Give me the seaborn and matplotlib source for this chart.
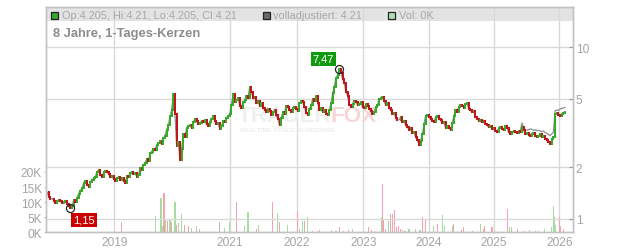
import numpy as np
import pandas as pd
import matplotlib
matplotlib.use("Agg")
import matplotlib.pyplot as plt
import seaborn as sns
from matplotlib.patches import Rectangle
from matplotlib.ticker import NullLocator, FixedLocator, FixedFormatter

# ---------------- data ----------------
# closing prices, two candles per x unit
close = [1.43, 1.33, 1.30, 1.31, 1.27, 1.24, 1.27, 1.29, 1.26, 1.23,
         1.25, 1.27, 1.22, 1.18, 1.15, 1.19, 1.28, 1.25, 1.32, 1.40,
         1.46, 1.50, 1.62, 1.66, 1.58, 1.54, 1.64, 1.68, 1.72, 1.76,
         1.88, 1.92, 1.80, 1.76, 1.86, 1.90, 1.88, 1.82, 1.74, 1.78,
         1.70, 1.66, 1.72, 1.76, 1.68, 1.72, 1.66, 1.62, 1.78, 1.76,
         1.84, 1.88, 1.82, 1.84, 1.76, 1.80, 1.98, 1.92, 2.06, 2.12,
         2.22, 2.16, 2.40, 2.46, 2.55, 2.50, 2.70, 2.76, 2.82, 2.74,
         2.95, 3.05, 3.30, 3.50, 3.95, 4.30, 5.30, 4.10, 2.65, 2.80,
         2.20, 2.55, 3.10, 3.00, 3.38, 3.45, 3.52, 3.40, 3.68, 3.80,
         3.72, 3.55, 3.62, 3.72, 3.66, 3.75, 3.55, 3.48, 3.68, 3.82,
         3.95, 3.70, 3.56, 3.62, 3.32, 3.45, 3.72, 3.65, 3.88, 3.98,
         4.10, 4.60, 5.30, 4.80, 4.95, 5.05, 4.55, 4.45, 4.78, 4.90,
         5.20, 5.05, 5.85, 5.50, 5.05, 5.15, 4.75, 4.85, 4.55, 4.70,
         4.45, 4.30, 4.20, 4.35, 4.25, 4.05, 4.18, 4.28, 4.00, 3.80,
         3.50, 3.85, 4.20, 4.10, 4.56, 4.50, 4.30, 4.20, 4.40, 4.48,
         4.35, 4.25, 4.70, 4.85, 4.78, 4.50, 4.15, 4.05, 4.36, 4.60,
         5.00, 4.85, 5.21, 4.70, 4.30, 4.40, 4.17, 4.28, 4.08, 4.02,
         4.30, 4.70, 5.40, 5.90, 6.60, 6.90, 7.47, 7.10, 6.50, 6.20,
         5.50, 5.20, 4.60, 4.50, 4.67, 4.85, 4.77, 4.60, 4.67, 4.80,
         4.46, 4.40, 4.67, 4.55, 4.36, 4.25, 4.08, 4.20, 4.46, 4.60,
         4.99, 5.05, 5.15, 4.85, 4.60, 4.70, 4.40, 4.30, 4.10, 4.15,
         3.85, 3.75, 3.78, 3.92, 3.65, 3.72, 3.50, 3.42, 3.30, 3.38,
         3.15, 3.20, 2.98, 2.88, 2.70, 2.85, 3.10, 3.55, 3.99, 4.05,
         3.90, 3.80, 3.73, 3.68, 3.90, 3.98, 3.80, 3.75, 3.60, 3.64,
         3.40, 3.48, 3.38, 3.30, 3.60, 3.95, 4.30, 4.20, 4.50, 4.62,
         4.55, 4.45, 4.67, 4.72, 4.36, 4.28, 4.17, 4.25, 3.90, 3.82,
         3.73, 3.78, 3.65, 3.70, 3.57, 3.50, 3.41, 3.45, 3.33, 3.38,
         3.26, 3.22, 3.37, 3.42, 3.33, 3.28, 3.49, 3.40, 3.19, 3.10,
         3.19, 3.26, 3.19, 3.14, 3.26, 3.20, 3.41, 3.30, 3.12, 3.18,
         3.08, 3.02, 3.10, 3.14, 3.05, 3.00, 3.05, 3.10, 2.98, 3.02,
         2.92, 2.86, 2.79, 2.74, 2.92, 3.00, 4.08, 4.15, 4.00, 3.95,
         4.08, 4.14, 4.21]

adj_tail_start = 286
adj_tail = [3.62, 3.40, 3.30, 3.28, 3.30, 3.34, 3.32, 3.28, 3.30, 3.26,
            3.28, 3.24, 3.22, 3.25, 3.18, 3.14, 3.10, 3.05, 3.12, 3.20,
            4.26, 4.30, 4.28, 4.36, 4.40, 4.42, 4.46]

year_labels = ["2019", "2021", "2022", "2023", "2024", "2025", "2026"]
year_pos = [20.2, 55.0, 75.2, 95.2, 115.0, 134.5, 154.3]

vol_pos = [22.5, 32.5, 34.3, 34.7, 35.2, 35.7, 36.3, 37.0, 37.5, 38.5,
           39.0, 39.7, 40.5, 41.5, 42.5, 43.5, 45.0, 46.0, 52.0, 53.5,
           55.0, 57.0, 59.5, 60.5, 63.0, 63.7, 68.0, 69.3, 70.0, 72.5,
           75.3, 76.0, 77.0, 77.5, 78.5, 80.0, 81.3, 82.0, 85.7, 87.0,
           88.0, 89.3, 90.7, 92.0, 96.7, 97.7, 98.7, 100.0, 100.7, 101.0,
           101.3, 102.0, 102.7, 103.5, 104.1, 104.5, 105.3, 105.7, 106.5, 107.0,
           107.8, 109.0, 111.0, 112.3, 113.2, 114.1, 116.3, 117.5, 117.7, 119.0,
           119.8, 122.0, 122.3, 124.7, 125.3, 125.5, 128.0, 130.5, 131.5, 131.8,
           134.0, 138.7, 139.3, 139.9, 141.7, 143.7, 145.3, 147.0, 148.0, 149.8,
           152.0, 152.5, 152.8, 153.2, 154.3, 154.7, 155.5]
vol_k = [3.3, 5.5, 11.3, 2.0, 13.0, 4.4, 3.9, 4.4, 3.3, 10.0,
         2.5, 3.0, 6.0, 2.5, 2.0, 1.5, 2.0, 1.0, 3.3, 1.5,
         3.3, 10.1, 2.0, 6.6, 1.0, 2.5, 10.0, 6.5, 3.5, 2.5,
         7.2, 1.0, 3.9, 3.9, 5.0, 0.5, 0.5, 0.8, 0.8, 0.5,
         1.6, 0.5, 0.8, 1.1, 1.6, 0.8, 0.5, 0.5, 5.0, 16.0,
         4.4, 1.2, 3.9, 6.0, 6.0, 7.4, 1.6, 2.2, 1.2, 0.8,
         0.5, 1.1, 1.1, 0.8, 5.2, 4.0, 2.2, 1.0, 2.7, 5.7,
         2.2, 2.2, 2.8, 0.8, 1.6, 1.1, 0.5, 2.7, 1.1, 2.2,
         1.6, 7.7, 1.6, 1.6, 1.1, 0.5, 0.8, 0.5, 0.5, 1.1,
         1.6, 8.8, 5.0, 2.5, 5.0, 2.2, 1.1]
vol_dir = ("rgggrgrgrg" "rggrrggrng" "grggrgrgrg" "rggrggrrgg" "rrrgrrrggr"
           "rrgrrrrrrg" "rgggrrgrrg" "ggrrrrrgrr" "rrggrrgrrg" "ggggrrr")

price_ticks = [1, 2, 5, 10]
vol_ticks = [0, 5, 10, 15, 20]

header_ohlc = "Op:4.205, Hi:4.21, Lo:4.205, Cl:4.21"
header_adj = "volladjustiert: 4.21"
header_vol = "Vol: 0K"
title = "8 Jahre, 1-Tages-Kerzen"

# ---------------- style ----------------
sns.set_style("white")
plt.rcParams["font.family"] = ["Liberation Sans", "DejaVu Sans"]

GREEN = "#3aa82a"
RED = "#c3141c"
VGREEN = "#a6dba2"
VRED = "#f2a3ab"
VGRAY = "#b9b9b9"
LBL = "#a3a3a3"
GRID = "#d9d9d9"
SPINE = "#c2c2c2"

W, H = 632, 253
fig = plt.figure(figsize=(W / 100, H / 100), dpi=100)
L, R, T, B = 45.5, 572.5, 8.0, 233.3
ax_vol = fig.add_axes([L / W, 1 - B / H, (R - L) / W, (B - T) / H])
ax_price = ax_vol.twinx()

n = len(close)
xpos = np.arange(n) / 2.0
xmin, xmax = -0.5, 158.25

# ---------- volume (left axis) ----------
vdf = pd.DataFrame({"pos": vol_pos, "k": vol_k, "dir": list(vol_dir)})
cmap = {"g": VGREEN, "r": VRED, "n": VGRAY}
ax_vol.bar(vdf["pos"], vdf["k"], width=0.33, color=[cmap[d] for d in vdf["dir"]],
           linewidth=0, zorder=2)
ax_vol.set_xlim(xmin, xmax)
ax_vol.set_ylim(0, 74.7)
ax_vol.yaxis.set_major_locator(FixedLocator(vol_ticks))
ax_vol.yaxis.set_major_formatter(FixedFormatter([f"{v}K" for v in vol_ticks]))
ax_vol.tick_params(axis="y", direction="out", length=1.8, width=0.8, color=SPINE,
                   pad=0.8, labelsize=8.6, labelcolor=LBL)
ax_vol.xaxis.set_major_locator(FixedLocator(year_pos))
ax_vol.xaxis.set_major_formatter(FixedFormatter(year_labels))
ax_vol.tick_params(axis="x", length=0, pad=3.0, labelsize=8.6, labelcolor=LBL)
ax_vol.set_axisbelow(True)
ax_vol.grid(axis="x", color=GRID, lw=1.0)
ax_vol.grid(axis="y", visible=False)
ax_vol.add_patch(Rectangle((0, 1 - 14.2 / (B - T)), 1, 14.2 / (B - T),
                           transform=ax_vol.transAxes, color="#e3e3e3", lw=0, zorder=0.3))

# watermark
def fx(px):
    return px / W
def fy(py):
    return 1 - py / H
ax_vol.text(fx(238), fy(116), "TRADER", transform=fig.transFigure, fontsize=16.2,
            fontweight="bold", color="#efefef", va="center", ha="left", zorder=1)
ax_vol.text(fx(331), fy(116), "FOX", transform=fig.transFigure, fontsize=16.2,
            fontweight="bold", color="#f8d6d6", va="center", ha="left", zorder=1)
ax_vol.text(fx(240), fy(130.5), "REALTIME STOCK SCREENING", transform=fig.transFigure,
            fontsize=4.6, fontweight="bold", color="#ececec", va="center", ha="left", zorder=1)

# ---------- price (right axis, log) ----------
adj = close[:adj_tail_start] + adj_tail
sns.lineplot(x=xpos, y=adj, ax=ax_price, color="#8e8e8e", lw=0.9, zorder=2)

opens = [close[0]] + close[:-1]
lo = np.minimum(opens, close)
hi = np.maximum(opens, close)
cols = [GREEN if c >= o else RED for o, c in zip(opens, close)]
candles = ax_price.vlines(xpos, lo, hi, colors=cols, linewidth=1.45, zorder=3)
candles.set_capstyle("projecting")

ax_price.set_yscale("log")
ax_price.set_ylim(0.833, 17.16)
ax_price.set_xlim(xmin, xmax)
ax_price.yaxis.set_major_locator(FixedLocator(price_ticks))
ax_price.yaxis.set_major_formatter(FixedFormatter([str(v) for v in price_ticks]))
ax_price.yaxis.set_minor_locator(NullLocator())
ax_price.tick_params(axis="y", direction="in", length=2.9, width=0.8, color="#999999",
                     pad=2.3, labelsize=8.6, labelcolor=LBL)
ax_price.set_axisbelow(True)
ax_price.grid(axis="y", color=GRID, lw=1.0)
ax_price.grid(axis="x", visible=False)
ax_price.set_xlabel("")
ax_price.set_ylabel("")
ax_vol.set_ylabel("")

# max / min annotations
imax = int(np.argmax(close))
imin = int(np.argmin(close))
for i, fc, off in [(imax, "#0f9a0f", (-11.5, 7.3)), (imin, "#cc0000", (10.0, -8.4))]:
    v = close[i]
    ax_price.plot([xpos[i]], [v], marker="o", ms=5.8, mfc="none", mec="#262626",
                  mew=0.9, zorder=5)
    ax_price.annotate(f"{v:.2f}".replace(".", ","), xy=(xpos[i], v), xytext=off,
                      textcoords="offset points", ha="center", va="center",
                      fontsize=8.0, color="white", zorder=6,
                      bbox=dict(boxstyle="square,pad=0.18", fc=fc, ec="none"))

for a in (ax_vol, ax_price):
    for s in a.spines.values():
        s.set_color(SPINE)
        s.set_linewidth(1.0)

# ---------- header ----------
def square(x0, fc):
    fig.patches.append(Rectangle((fx(x0), fy(19.5)), 7 / W, 7 / H, transform=fig.transFigure,
                                 fc=fc, ec="#222222", lw=0.9, figure=fig))

square(50.5, "#33a833")
fig.text(fx(61.5), fy(16.3), header_ohlc, fontsize=7.9, color="#a8a8a8", va="center", ha="left")
square(263, "#6a6a6a")
fig.text(fx(273.3), fy(16.3), header_adj, fontsize=7.9, color="#a8a8a8", va="center", ha="left")
square(387.5, "#b0e2b0")
fig.text(fx(399), fy(16.3), header_vol, fontsize=7.9, color="#a8a8a8", va="center", ha="left")
fig.text(fx(53.3), fy(33.7), title, fontsize=9.3, fontweight="bold", color="#8c8c8c",
         va="center", ha="left")

fig.savefig("out.png", dpi=100)
